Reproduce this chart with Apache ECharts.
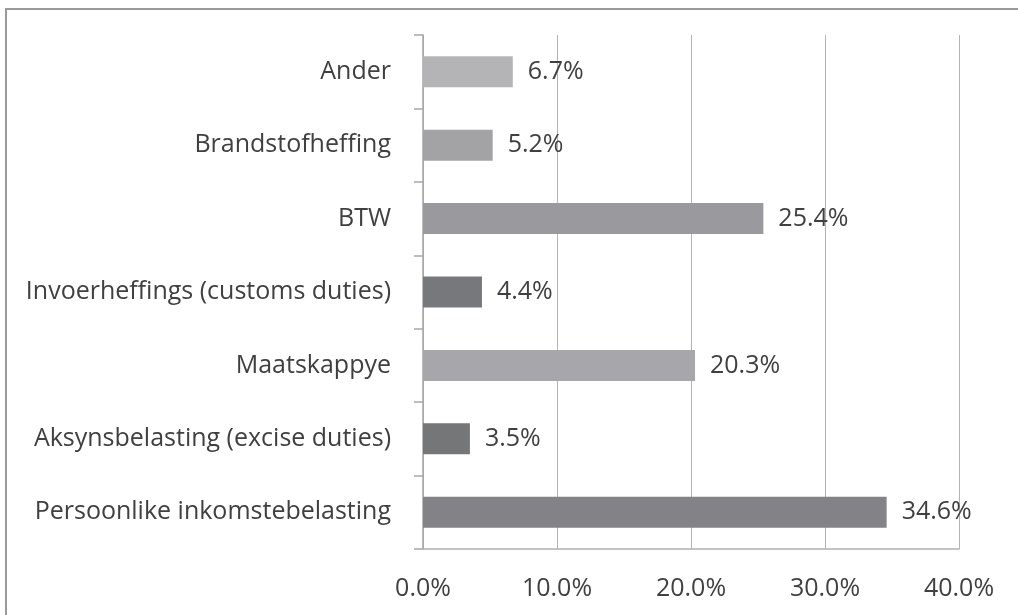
<!DOCTYPE html>
<html>
<head>
<meta charset="utf-8">
<script src="https://cdn.jsdelivr.net/npm/echarts@6/dist/echarts.min.js"></script>
<style>html,body{margin:0;padding:0;background:#fff}#c{width:1018px;height:615px}</style>
</head>
<body>
<div id="c"></div>
<script>
const categories = ['Ander', 'Brandstofheffing', 'BTW', 'Invoerheffings (customs duties)', 'Maatskappye', 'Aksynsbelasting (excise duties)', 'Persoonlike inkomstebelasting'];
const values = [6.7, 5.2, 25.4, 4.4, 20.3, 3.5, 34.6];
const barColors = ['#b4b4b7', '#a3a3a6', '#9a9a9e', '#77787c', '#a7a7ab', '#757678', '#838387'];
const xTicks = [0, 10, 20, 30, 40];

const FONT = 'Open Sans';
const FS = 25;
const chart = echarts.init(document.getElementById('c'), null, {renderer: 'canvas'});
chart.setOption({
  animation: false,
  backgroundColor: '#fff',
  textStyle: {fontFamily: FONT},
  graphic: [{
    type: 'rect', shape: {x: 6, y: 9, width: 1200, height: 800},
    style: {fill: 'none', stroke: '#9a9a9a', lineWidth: 2}, z: 100
  }],
  grid: {left: 423, right: 59, top: 35, bottom: 66, containLabel: false},
  xAxis: {
    type: 'value', min: xTicks[0], max: xTicks[xTicks.length - 1], interval: 10,
    axisLine: {show: true, lineStyle: {color: '#b0b0b0', width: 1.5}},
    axisTick: {show: false},
    splitLine: {show: true, lineStyle: {color: '#b4b4b4', width: 1}},
    axisLabel: {
      margin: 27, fontSize: FS, color: '#404040', fontFamily: FONT,
      formatter: v => v.toFixed(1) + '%'
    }
  },
  yAxis: {
    type: 'category', data: categories, inverse: true,
    axisLine: {show: true, lineStyle: {color: '#a6a6a6', width: 1.5}},
    axisTick: {show: true, inside: false, length: 9, lineStyle: {color: '#a6a6a6', width: 1.5}},
    axisLabel: {margin: 32, fontSize: FS, color: '#404040', fontFamily: FONT},
    splitLine: {show: false}
  },
  series: [{
    type: 'bar',
    data: values.map((v, i) => ({value: v, itemStyle: {color: barColors[i]}})),
    barWidth: 31,
    label: {
      show: true, position: 'right', distance: 15, fontSize: FS, color: '#404040', fontFamily: FONT,
      formatter: p => p.value.toFixed(1) + '%'
    }
  }]
});
</script>
</body>
</html>
